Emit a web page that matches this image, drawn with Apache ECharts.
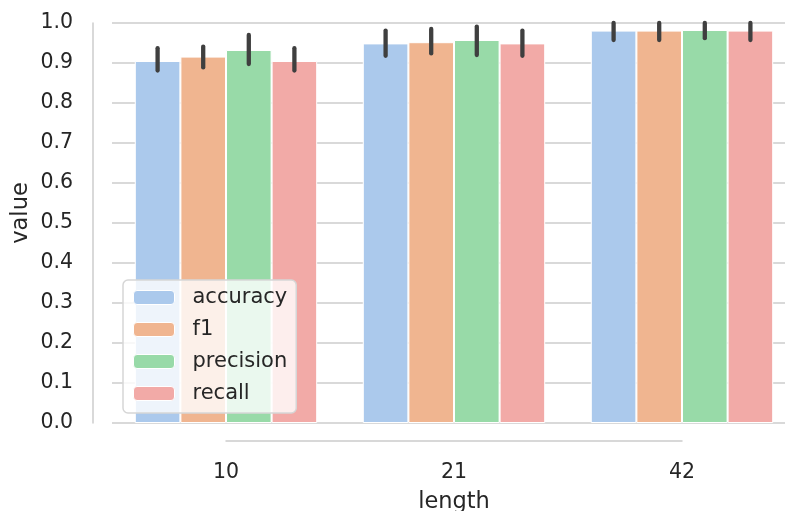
<!DOCTYPE html>
<html>
<head>
<meta charset="utf-8">
<script src="https://cdn.jsdelivr.net/npm/echarts@6/dist/echarts.min.js"></script>
<style>
  html, body { margin: 0; padding: 0; background: #fff; }
  #chart { width: 785px; height: 511px; }
</style>
</head>
<body>
<div id="chart"></div>
<script>
// values
const categories = ['10', '21', '42']
const metrics = ['accuracy', 'f1', 'precision', 'recall']
const colors = ['#abc9ec', '#f0b590', '#98daa8', '#f2aaa7']

const accuracy = [0.905, 0.949, 0.981]
const f1 = [0.916, 0.952, 0.981]
const precision = [0.9325, 0.9575, 0.9825]
const recall = [0.905, 0.949, 0.981]

// 95% ci bounds
const accuracyLow = [0.881, 0.918, 0.9575]
const accuracyHigh = [0.937, 0.981, 1.0]
const f1Low = [0.889, 0.924, 0.9575]
const f1High = [0.941, 0.985, 1.0]
const precisionLow = [0.8975, 0.92, 0.962]
const precisionHigh = [0.97, 0.991, 1.0]
const recallLow = [0.881, 0.918, 0.9575]
const recallHigh = [0.937, 0.981, 1.0]

const yTicks = [0, 0.1, 0.2, 0.3, 0.4, 0.5, 0.6, 0.7, 0.8, 0.9, 1.0]

const values = [accuracy, f1, precision, recall]
const lows = [accuracyLow, f1Low, precisionLow, recallLow]
const highs = [accuracyHigh, f1High, precisionHigh, recallHigh]

const font = 'DejaVu Sans'
const textColor = '#262626'
const spine = '#cccccc'

const chart = echarts.init(document.getElementById('chart'))

const barSeries = metrics.map((name, i) => ({
  name,
  type: 'bar',
  xAxisIndex: 0,
  yAxisIndex: 0,
  barGap: '0%',
  barCategoryGap: '20%',
  itemStyle: { color: colors[i], borderColor: '#fff', borderWidth: 1 },
  data: values[i],
}))

const errSeries = metrics.map((name, k) => ({
  name: name + ' ci',
  type: 'custom',
  xAxisIndex: 0,
  yAxisIndex: 0,
  z: 3,
  encode: { x: 0, y: [1, 2] },
  renderItem(params, api) {
    const idx = api.value(0)
    const bw = api.size([1, 0])[0] * 0.8 / metrics.length
    const dx = (k - (metrics.length - 1) / 2) * bw
    const p1 = api.coord([idx, api.value(1)])
    const p2 = api.coord([idx, api.value(2)])
    return {
      type: 'line',
      shape: { x1: p1[0] + dx, y1: p1[1], x2: p2[0] + dx, y2: p2[1] },
      style: { stroke: '#3f3f3f', lineWidth: 4.3, lineCap: 'round' },
    }
  },
  data: categories.map((c, j) => [j, lows[k][j], highs[k][j]]),
}))

chart.setOption({
  animation: false,
  textStyle: { fontFamily: font },
  grid: [
    // plot area runs past the right edge, like the cropped original
    { left: 112, top: 23, width: 684, height: 400, outerBoundsMode: 'none', containLabel: false },
    // trimmed bottom spine (first to last tick) and the axis names
    { left: 226, top: 3, width: 456, height: 420, outerBoundsMode: 'none', containLabel: false },
  ],
  legend: {
    data: metrics,
    orient: 'vertical',
    left: 123,
    top: 280,
    padding: [7, 9, 9, 10],
    itemWidth: 41,
    itemHeight: 14,
    itemGap: 11,
    backgroundColor: 'rgba(255,255,255,0.8)',
    borderColor: '#d6d6d6',
    borderWidth: 1.5,
    borderRadius: 5,
    itemStyle: { borderColor: '#fff', borderWidth: 1 },
    textStyle: {
      fontFamily: font, fontSize: 21, lineHeight: 21, color: textColor,
      padding: [0, 0, 0, 13],
    },
  },
  xAxis: [
    {
      gridIndex: 0,
      type: 'category',
      data: categories,
      axisLine: { show: false },
      axisTick: { show: false },
      axisLabel: { show: false },
      splitLine: { show: false },
    },
    {
      gridIndex: 1,
      type: 'category',
      data: categories,
      boundaryGap: false,
      offset: 18,
      name: 'length',
      nameLocation: 'middle',
      nameGap: 50,
      nameTextStyle: { fontFamily: font, fontSize: 22.5, color: textColor },
      axisLine: { show: true, onZero: false, lineStyle: { color: spine, width: 1.5 } },
      axisTick: { show: false },
      axisLabel: { fontFamily: font, fontSize: 20.5, color: textColor, margin: 21 },
      splitLine: { show: false },
    },
  ],
  yAxis: [
    {
      gridIndex: 0,
      type: 'value',
      min: 0,
      max: 1,
      interval: 0.1,
      offset: 19,
      axisLine: { show: true, lineStyle: { color: spine, width: 1.5 } },
      axisTick: { show: false },
      axisLabel: {
        fontFamily: font,
        fontSize: 20.5,
        color: textColor,
        margin: 20,
        formatter: (v) => yTicks.includes(Math.round(v * 10) / 10) ? v.toFixed(1) : '',
      },
      splitLine: { show: true, lineStyle: { color: spine, width: 1.5 } },
    },
    {
      gridIndex: 1,
      type: 'value',
      min: 0,
      max: 1.05,
      offset: 133,
      name: 'value',
      nameLocation: 'middle',
      nameGap: 60,
      nameTextStyle: { fontFamily: font, fontSize: 22.5, color: textColor },
      axisLine: { show: false },
      axisTick: { show: false },
      axisLabel: { show: false },
      splitLine: { show: false },
    },
  ],
  series: [...barSeries, ...errSeries],
})
</script>
</body>
</html>
